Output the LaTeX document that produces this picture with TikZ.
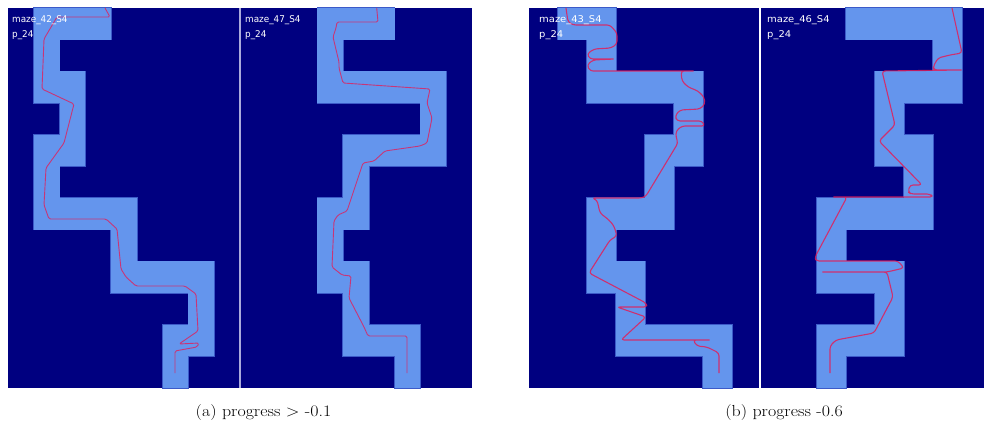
\documentclass[tikz,border=0pt]{standalone}
\usepackage{fontspec}
\newfontfamily\labfont{DejaVu Sans}
\definecolor{cellc}{RGB}{100,149,237}
\definecolor{edgec}{RGB}{60,90,200}
\definecolor{navyc}{RGB}{0,0,128}
\definecolor{trailc}{RGB}{225,30,90}
\definecolor{sepa}{RGB}{170,170,220}
\begin{document}
\begin{tikzpicture}[x=1pt,y=-1pt,
  cellcol/.style={fill=cellc},
  edgecol/.style={fill=cellc,draw=edgec,line width=1.3pt},
  navy/.style={fill=navyc},
  trail/.style={draw=trailc,draw opacity=0.8,line width=0.9pt,line join=round,rounded corners=1.5pt},
  trailb/.style={draw=trailc,draw opacity=0.85,line width=1.1pt,line join=round,rounded corners=3pt},
  lab/.style={text=white,font=\labfont\fontsize{9.3}{10}\selectfont,anchor=west,inner sep=0pt},
  captext/.style={font=\fontsize{16}{18}\selectfont,inner sep=0pt}]
\newcommand\mazepanel[3]{%
  \foreach \r/\s/\e in {#3} {\path[edgecol] ({#1+\s*#2},{8+\r*31.667}) rectangle ({#1+(\e+1)*#2},{8+(\r+1)*31.667});}
  \foreach \r/\s/\e in {#3} {\path[cellcol] ({#1+\s*#2},{8+\r*31.667}) rectangle ({#1+(\e+1)*#2},{8+(\r+1)*31.667});}}
\path[fill=white] (0,0) rectangle (984,427);
\useasboundingbox (0,0) rectangle (984,427);
% panel a
\begin{scope}
\clip (8,8) rectangle (472,388);
\path[navy] (8,8) rectangle (472,388);
\mazepanel{8}{25.78}{0/1/3,1/1/1,2/1/2,3/2/2,4/1/2,5/1/1,6/1/4,7/4/4,8/4/7,9/7/7,10/6/7,11/6/6}
\mazepanel{240}{25.78}{0/3/5,1/3/3,2/3/7,3/7/7,4/4/7,5/4/4,6/3/4,7/3/3,8/3/4,9/4/4,10/4/6,11/6/6}
\draw[trail] (105,8) -- (110,17) -- (57,17) -- (44,39) -- (42,89) -- (74,104) -- (64,143) -- (46,168) -- (44,205) -- (49,219) -- (106,219) -- (117,229) -- (121,269) -- (126,277) -- (136,286) -- (185,286) -- (196,294) -- (198,331) -- (179,344) -- (199,343) -- (197,347) -- (175,351) -- (175,373);
\draw[trail] (376.7,8) -- (378,22) -- (337,22) -- (336,28) -- (333,37) -- (339,62) -- (339,68) -- (343,83) -- (430,89) -- (427,103) -- (432,118) -- (427,143) -- (420,146) -- (385,151) -- (374,161) -- (363,163) -- (347,211) -- (338,215) -- (334,221) -- (332,267) -- (342,275) -- (351,276) -- (349,298) -- (364,327) -- (368,336) -- (407,336) -- (407,373);
\draw[line width=1.5pt,sepa] (240,8) -- (240,388);
\end{scope}
\node[lab,xscale=0.95] (ta1) at (12,20) {maze\_42\_S4};
\node[lab,xscale=0.95] (tb1) at (12,35) {p\_24};
\node[lab,xscale=0.95] (ta2) at (245,20) {maze\_47\_S4};
\node[lab,xscale=0.95] (tb2) at (245,35) {p\_24};
% panel b
\begin{scope}
\clip (529,8) rectangle (984,388);
\path[navy] (529,8) rectangle (984,388);
\mazepanel{529}{29}{0/1/2,1/2/2,2/2/5,3/5/5,4/4/5,5/4/4,6/2/4,7/2/2,8/2/3,9/3/3,10/3/6,11/6/6}
\mazepanel{759}{29}{0/3/6,1/6/6,2/4/6,3/4/4,4/4/5,5/5/5,6/2/5,7/2/2,8/2/4,9/4/4,10/2/4,11/2/2}
\draw[trailb] (566,8) -- (568,22) -- (573,25) -- (610,25) -- (617,33) -- (617,44) -- (611,48) -- (594,49) -- (587,54) -- (590,59) -- (615,59) -- (593,60) -- (587,65) -- (590,71) -- (695,71) -- (681,71) -- (682,81) -- (688,87) -- (698,91) -- (704,97) -- (705,104) -- (700,109) -- (680,110) -- (675,116) -- (677,121) -- (702,121) -- (705,126) -- (682,126) -- (676,131) -- (676,137) -- (678,143) -- (646,196) -- (642,198) -- (592,198) -- (597,200) -- (600,213) -- (609,220) -- (614,226) -- (617,236) -- (610,240) -- (589,273) -- (646,303) -- (647,307) -- (617,307) -- (646,317) -- (621,340) -- (711,340) -- (693,340) -- (697,346) -- (707,347) -- (719,353) -- (719,373);
\draw[trailb] (952,8) -- (962,53) -- (950,55) -- (938,58) -- (933,67) -- (934,70) -- (963,70) -- (882,71) -- (895,125) -- (879,141) -- (922,185) -- (910,185) -- (908,192) -- (911,194) -- (930,194) -- (933,197) -- (832,197) -- (847,197) -- (815,257) -- (816,261) -- (898,261) -- (904,268) -- (887,272) -- (821,272) -- (887,272) -- (893,297) -- (874,333) -- (836,340) -- (830,346) -- (830,373);
\draw[line width=1.5pt,white] (760,8) -- (760,388);
\end{scope}
\node[lab,xscale=1.07] (ta3) at (539,20) {maze\_43\_S4};
\node[lab,xscale=1.07] (tb3) at (539,35) {p\_24};
\node[lab,xscale=1.07] (ta4) at (767,20) {maze\_46\_S4};
\node[lab,xscale=1.07] (tb4) at (767,35) {p\_24};
% captions
\node[captext,xscale=1.12] (capa) at (263.5,413) {(a) progress > -0.1};
\node[captext,xscale=1.12] (capb) at (784,413) {(b) progress -0.6};
\end{tikzpicture}
\end{document}
